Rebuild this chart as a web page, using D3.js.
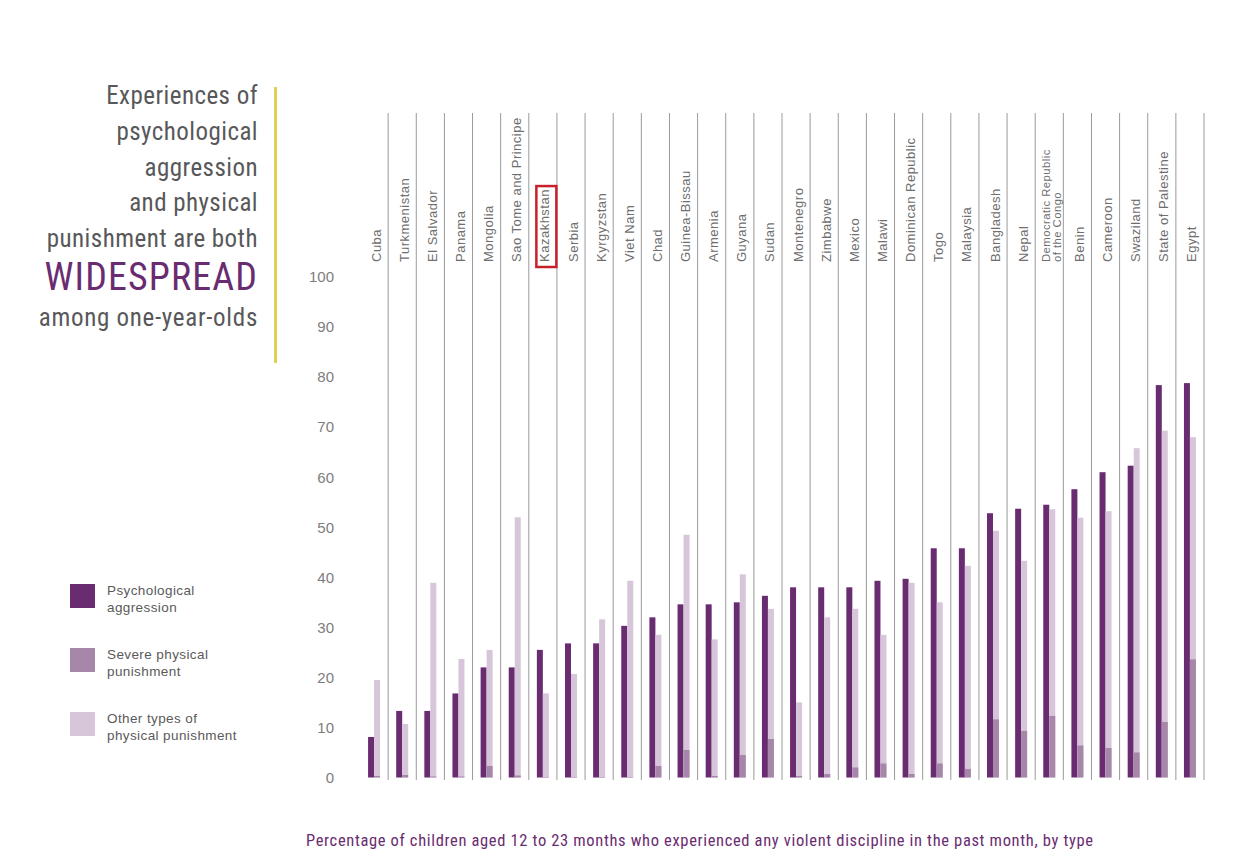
<!DOCTYPE html>
<html><head><meta charset="utf-8">
<script src="https://cdn.jsdelivr.net/npm/d3@7"></script>
<style>
html,body{margin:0;padding:0;background:#fff;}
svg{display:block;}
</style></head>
<body>
<svg id="chart" width="1254" height="866"></svg>
<script>
const countries = ["Cuba","Turkmenistan","El Salvador","Panama","Mongolia","Sao Tome and Principe","Kazakhstan","Serbia","Kyrgyzstan","Viet Nam","Chad","Guinea-Bissau","Armenia","Guyana","Sudan","Montenegro","Zimbabwe","Mexico","Malawi","Dominican Republic","Togo","Malaysia","Bangladesh","Nepal","Democratic Republic|of the Congo","Benin","Cameroon","Swaziland","State of Palestine","Egypt"];
const psychological = [8.1,13.3,13.3,16.8,22,22,25.5,26.8,26.8,30.3,32,34.6,34.6,35,36.3,38,38,38,39.3,39.7,45.8,45.8,52.8,53.7,54.5,57.6,61,62.3,78.4,78.8];
const severe = [0.3,0.5,0.2,0.2,2.3,0.4,0.1,0.1,0.1,0.1,2.3,5.5,0.3,4.5,7.7,0.3,0.7,2,2.8,0.7,2.8,1.7,11.6,9.3,12.3,6.4,5.9,5,11.1,23.6];
const otherTypes = [19.5,10.7,38.9,23.7,25.5,52,16.8,20.7,31.6,39.3,28.5,48.5,27.6,40.6,33.7,15,32,33.7,28.5,38.9,35,42.3,49.3,43.3,53.6,51.9,53.2,65.8,69.3,68];
const yTicks = [0,10,20,30,40,50,60,70,80,90,100];
const legendLabels = [["Psychological","aggression"],["Severe physical","punishment"],["Other types of","physical punishment"]];
const titleLines = ["Experiences of","psychological","aggression","and physical","punishment are both"];
const titleEmph = "WIDESPREAD";
const titleLast = "among one-year-olds";
const caption = "Percentage of children aged 12 to 23 months who experienced any violent discipline in the past month, by type";
const highlighted = "Kazakhstan";

const colors = {psych:"#6a2c70", severe:"#a687a9", other:"#d7c6da"};
const condensed = "'Liberation Sans Narrow','Roboto Condensed','Arial Narrow',Roboto,sans-serif";
const sans = "'Liberation Sans',Arial,Helvetica,sans-serif";

const svg = d3.select("#chart");
const x = d3.scaleBand().domain(countries).range([360,1204]).paddingInner(0).paddingOuter(0);
const y = d3.scaleLinear().domain([0,100]).range([777.5,277]);
const bw = 6;

// fit a text element to a target width by adjusting letter-spacing
function fitWidth(sel, target) {
  const node = sel.node();
  const txt = node.textContent;
  const w = node.getComputedTextLength();
  const n = Math.max(1, txt.length - 1);
  sel.attr("letter-spacing", ((target - w) / n).toFixed(3));
}

// separators
svg.append("g").selectAll("line").data(countries).join("line")
  .attr("x1", d => x(d)+x.bandwidth()).attr("x2", d => x(d)+x.bandwidth())
  .attr("y1",113).attr("y2",780)
  .attr("stroke","#9a9a9a").attr("stroke-width",1);

// y axis labels
const yAxis = d3.axisLeft(y).tickValues(yTicks).tickSize(0).tickPadding(0);
const ga = svg.append("g").attr("transform","translate(334,0)").call(yAxis);
ga.select(".domain").remove();
ga.selectAll("text").attr("font-family",sans).attr("font-size",15).attr("fill","#7d7d7d");

// bars
const gb = svg.append("g");
const cx = d => x(d) + x.bandwidth()/2;
gb.selectAll(".p").data(countries).join("rect").attr("class","p")
  .attr("x", d => cx(d)-bw).attr("width",bw)
  .attr("y",(d,i)=>y(psychological[i])).attr("height",(d,i)=>y(0)-y(psychological[i]))
  .attr("fill",colors.psych);
gb.selectAll(".o").data(countries).join("rect").attr("class","o")
  .attr("x", d => cx(d)).attr("width",bw)
  .attr("y",(d,i)=>y(otherTypes[i])).attr("height",(d,i)=>y(0)-y(otherTypes[i]))
  .attr("fill",colors.other);
gb.selectAll(".s").data(countries).join("rect").attr("class","s")
  .attr("x", d => cx(d)).attr("width",bw)
  .attr("y",(d,i)=>y(severe[i])).attr("height",(d,i)=>y(0)-y(severe[i]))
  .attr("fill",colors.severe);

// country labels
const gl = svg.append("g");
countries.forEach(c => {
  const parts = c.split("|");
  const t = gl.append("text")
    .attr("transform",`translate(${cx(c)+2},262) rotate(-90)`)
    .attr("text-anchor","start").attr("font-family",sans)
    .attr("fill","#6e6e6e");
  if (parts.length === 1) {
    t.attr("font-size",13).attr("letter-spacing",0.5).attr("dy","0.35em").text(c);
  } else {
    t.attr("font-size",11.3).attr("letter-spacing",0.45);
    t.append("tspan").attr("x",0).attr("dy","-0.15em").text(parts[0]);
    t.append("tspan").attr("x",0).attr("dy","1.0em").text(parts[1]);
  }
  if (c === highlighted) {
    const w = t.node().getComputedTextLength();
    svg.append("rect")
      .attr("x", cx(c)+2 - 8.5).attr("y", 262 - w - 3)
      .attr("width",20).attr("height", w + 8)
      .attr("fill","none").attr("stroke","#c8202a").attr("stroke-width",2.5);
  }
});

// title block
const gt = svg.append("g").attr("font-family",condensed).attr("text-anchor","end");
titleLines.forEach((l,i) => {
  gt.append("text").attr("x",258).attr("y",104 + i*35.8).attr("font-size",25)
    .attr("letter-spacing",0.45).attr("fill","#58585a").text(l);
});
gt.append("text").attr("x",258).attr("y",290).attr("font-size",38).attr("letter-spacing",1.1)
  .attr("fill","#6a2c70").text(titleEmph);
gt.append("text").attr("x",258).attr("y",326).attr("font-size",25).attr("letter-spacing",0.7)
  .attr("fill","#58585a").text(titleLast);
svg.append("line").attr("x1",275.5).attr("x2",275.5).attr("y1",87).attr("y2",363)
  .attr("stroke","#e2cf5a").attr("stroke-width",3);

// legend
const legColors = [colors.psych, colors.severe, colors.other];
const gLeg = svg.append("g");
legendLabels.forEach((lab,i) => {
  const y0 = 584 + i*64;
  gLeg.append("rect").attr("x",70).attr("y",y0).attr("width",25).attr("height",24).attr("fill",legColors[i]);
  const t = gLeg.append("text").attr("font-family",sans).attr("font-size",13.5)
    .attr("letter-spacing",0.4).attr("fill","#5a5a5a");
  lab.forEach((s,j) => t.append("tspan").attr("x",107).attr("y",y0+11+j*17).text(s));
});

// caption
const cap = svg.append("text").attr("x",306).attr("y",846).attr("font-family",condensed)
  .attr("font-size",16.5).attr("fill","#6a2c70").text(caption);
fitWidth(cap, 787);
</script>
</body></html>
